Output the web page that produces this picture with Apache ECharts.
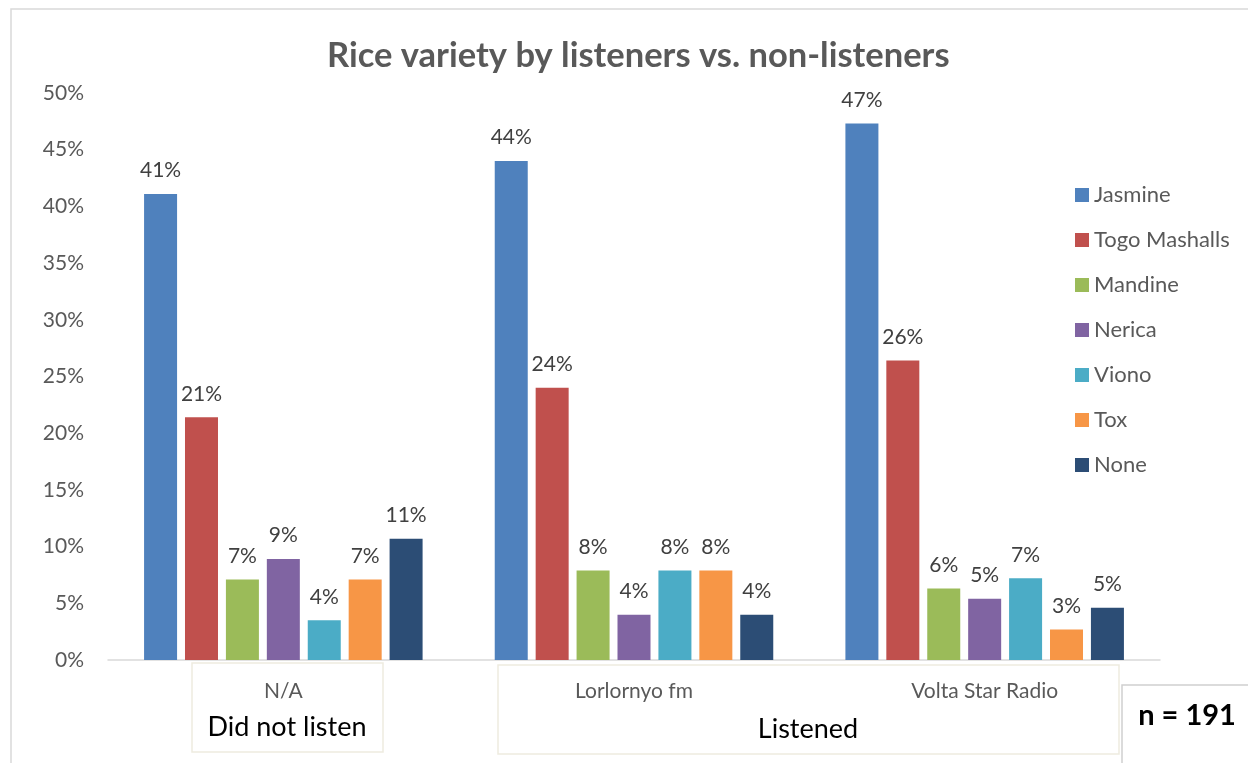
<!DOCTYPE html>
<html><head><meta charset="utf-8">
<script src="https://cdn.jsdelivr.net/npm/echarts@6/dist/echarts.min.js"></script>
<style>html,body{margin:0;padding:0;background:#fff}#c{width:1248px;height:763px}</style>
</head><body><div id="c"></div>
<script>
const categories = ['N/A', 'Lorlornyo fm', 'Volta Star Radio'];
const groupLabels = ['Did not listen', 'Listened'];
const seriesNames = ['Jasmine', 'Togo Mashalls', 'Mandine', 'Nerica', 'Viono', 'Tox', 'None'];
const jasmine = [41.1, 44.0, 47.3];
const togo = [21.4, 24.0, 26.4];
const mandine = [7.1, 7.9, 6.3];
const nerica = [8.9, 4.0, 5.4];
const viono = [3.5, 7.9, 7.2];
const tox = [7.1, 7.9, 2.7];
const none = [10.7, 4.0, 4.6];
const yTicks = [0, 5, 10, 15, 20, 25, 30, 35, 40, 45, 50];
const sampleNote = 'n = 191';
const titleText = 'Rice variety by listeners vs. non-listeners';

const values = [jasmine, togo, mandine, nerica, viono, tox, none];
const colors = ['#4F81BD', '#C0504D', '#9BBB59', '#8064A2', '#4BACC6', '#F79646', '#2C4D75'];
const FONT = 'Lato';

const chart = echarts.init(document.getElementById('c'));
chart.setOption({
  backgroundColor: '#fff',
  animation: false,
  textStyle: { fontFamily: FONT },
  title: {
    text: titleText, left: 322, top: 33,
    textStyle: { fontFamily: FONT, fontSize: 34.5, fontWeight: 'bold', color: '#595959' }
  },
  legend: {
    orient: 'vertical', left: 1070, top: 179, itemGap: 23,
    itemWidth: 14, itemHeight: 14, icon: 'rect',
    textStyle: { fontFamily: FONT, fontSize: 22, color: '#595959' },
    data: seriesNames
  },
  grid: { left: 108, right: 88, top: 93, bottom: 103, containLabel: false },
  xAxis: {
    type: 'category', data: categories,
    axisLine: { lineStyle: { color: '#d9d9d9', width: 1.5 } },
    axisTick: { show: false },
    axisLabel: { margin: 21, fontFamily: FONT, fontSize: 21, color: '#595959' }
  },
  yAxis: {
    type: 'value', min: 0, max: 50, interval: 5,
    axisLine: { show: false }, axisTick: { show: false }, splitLine: { show: false },
    axisLabel: { formatter: '{value}%', fontFamily: FONT, fontSize: 21, color: '#595959', margin: 24 }
  },
  series: seriesNames.map((n, i) => ({
    name: n, type: 'bar', data: values[i], barWidth: 33, barGap: '24%',
    itemStyle: { color: colors[i] },
    label: {
      show: true, position: 'top', distance: 13,
      formatter: p => Math.round(p.value) + '%',
      fontFamily: FONT, fontSize: 21, color: '#404040'
    }
  })),
  graphic: [
    { type: 'rect', shape: { x: 11, y: 9, width: 1300, height: 800 }, style: { fill: 'none', stroke: '#d9d9d9', lineWidth: 1.5 }, silent: true },
    { type: 'rect', shape: { x: 192, y: 663, width: 191, height: 89 }, style: { fill: 'none', stroke: '#eeebe0', lineWidth: 1.5 }, silent: true },
    { type: 'rect', shape: { x: 498, y: 665, width: 621, height: 89 }, style: { fill: 'none', stroke: '#eeebe0', lineWidth: 1.5 }, silent: true },
    { type: 'text', style: { text: groupLabels[0], x: 287, y: 727, align: 'center', verticalAlign: 'middle', font: '27px ' + FONT, fill: '#000' } },
    { type: 'text', style: { text: groupLabels[1], x: 808, y: 729, align: 'center', verticalAlign: 'middle', font: '27px ' + FONT, fill: '#000' } },
    { type: 'rect', shape: { x: 1122, y: 685, width: 200, height: 100 }, style: { fill: '#fff', stroke: '#d0d0d0', lineWidth: 1.5 }, silent: true },
    { type: 'text', style: { text: sampleNote, x: 1187, y: 716, align: 'center', verticalAlign: 'middle', font: 'bold 29px ' + FONT, fill: '#000' } }
  ]
});
</script></body></html>
